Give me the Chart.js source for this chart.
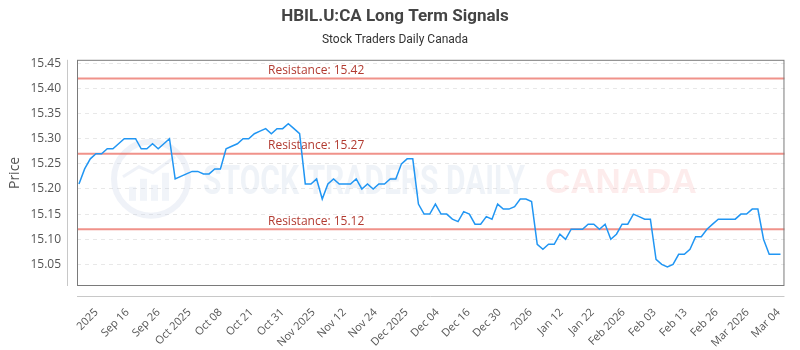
<!DOCTYPE html>
<html>
<head>
<meta charset="utf-8">
<script src="https://cdn.jsdelivr.net/npm/chart.js@4.4.0/dist/chart.umd.min.js"></script>
<style>
  html, body { margin: 0; padding: 0; background: #fff; }
</style>
</head>
<body>
<canvas id="chart" width="800" height="350"></canvas>
<script>
// daily closes
const prices = [
  15.21, 15.24, 15.26, 15.27, 15.27, 15.28, 15.28, 15.29, 15.30, 15.30,
  15.30, 15.28, 15.28, 15.29, 15.28, 15.29, 15.30, 15.22, 15.225, 15.23,
  15.235, 15.235, 15.23, 15.23, 15.24, 15.24, 15.28, 15.285, 15.29, 15.30,
  15.30, 15.31, 15.315, 15.32, 15.31, 15.32, 15.32, 15.33, 15.32, 15.31,
  15.21, 15.21, 15.22, 15.18, 15.21, 15.22, 15.21, 15.21, 15.21, 15.22,
  15.20, 15.21, 15.20, 15.21, 15.21, 15.22, 15.22, 15.25, 15.26, 15.26,
  15.17, 15.15, 15.15, 15.17, 15.15, 15.15, 15.14, 15.135, 15.155, 15.15,
  15.13, 15.13, 15.145, 15.14, 15.17, 15.16, 15.16, 15.165, 15.18, 15.18,
  15.175, 15.09, 15.08, 15.09, 15.09, 15.11, 15.10, 15.12, 15.12, 15.12,
  15.13, 15.13, 15.12, 15.13, 15.10, 15.11, 15.13, 15.13, 15.15, 15.145,
  15.14, 15.14, 15.06, 15.05, 15.045, 15.05, 15.07, 15.07, 15.08, 15.105,
  15.105, 15.12, 15.13, 15.14, 15.14, 15.14, 15.14, 15.15, 15.15, 15.16,
  15.16, 15.10, 15.07, 15.07, 15.07
];

const tickLabels = [
  "2025", "Sep 16", "Sep 26", "Oct 2025", "Oct 08", "Oct 21", "Oct 31",
  "Nov 2025", "Nov 12", "Nov 24", "Dec 2025", "Dec 04", "Dec 16", "Dec 30",
  "2026", "Jan 12", "Jan 22", "Feb 2026", "Feb 03", "Feb 13", "Feb 26",
  "Mar 2026", "Mar 04"
];

const priceTicks = [15.05, 15.10, 15.15, 15.20, 15.25, 15.30, 15.35, 15.40, 15.45];
const resistance = [15.42, 15.27, 15.12];

// x ticks sit evenly along the index axis
const firstTick = 3.1;
const tickStep = 5.48;

const narrow = '"Liberation Sans Narrow", "Roboto", sans-serif';
const plain = '"Open Sans", sans-serif';

// frame, offset axis lines, resistance levels and the faint watermark
const decor = {
  id: 'decor',
  beforeDatasetsDraw(chart) {
    const { ctx, chartArea: a, scales: { y } } = chart;
    ctx.save();

    // watermark logo
    const cx = a.left + 74, cy = a.top + 119;
    ctx.strokeStyle = 'rgba(190,204,226,0.25)';
    ctx.fillStyle = 'rgba(190,204,226,0.22)';
    ctx.lineWidth = 6;
    ctx.beginPath();
    ctx.arc(cx, cy, 37, 0, Math.PI * 2);
    ctx.stroke();
    [[-22, 14], [-11, 22], [0, 16], [11, 28]].forEach(b => {
      ctx.fillRect(cx + b[0], cy + 26 - b[1] - 4, 7, b[1]);
    });
    ctx.lineWidth = 3;
    ctx.beginPath();
    ctx.moveTo(cx - 28, cy - 2);
    ctx.lineTo(cx - 12, cy - 12);
    ctx.lineTo(cx + 2, cy - 6);
    ctx.lineTo(cx + 24, cy - 22);
    ctx.stroke();

    ctx.textAlign = 'left';
    ctx.textBaseline = 'alphabetic';
    ctx.font = 'bold 40px ' + narrow;
    ctx.fillStyle = 'rgba(190,204,226,0.24)';
    ctx.fillText('STOCK TRADERS DAILY', a.left + 126, a.top + 134, 322);
    ctx.font = 'bold 35px "Liberation Sans", sans-serif';
    ctx.fillStyle = 'rgba(245,160,160,0.2)';
    ctx.fillText('CANADA', a.left + 468, a.top + 133, 152);

    // resistance levels
    resistance.forEach(level => {
      const py = y.getPixelForValue(level);
      ctx.strokeStyle = 'rgba(234,100,88,0.7)';
      ctx.lineWidth = 2;
      ctx.beginPath();
      ctx.moveTo(a.left, py);
      ctx.lineTo(a.right, py);
      ctx.stroke();
      ctx.fillStyle = '#b23b31';
      ctx.font = '12px ' + plain;
      ctx.textAlign = 'left';
      ctx.textBaseline = 'bottom';
      ctx.fillText('Resistance: ' + level.toFixed(2), a.left + 191, py - 2);
    });
    ctx.restore();
  },
  afterDraw(chart) {
    const { ctx, chartArea: a } = chart;
    ctx.save();
    ctx.lineWidth = 1;
    ctx.strokeStyle = '#7a7a7a';
    ctx.strokeRect(a.left + 0.5, a.top + 0.5, a.right - a.left - 1, a.bottom - a.top - 1);
    ctx.strokeStyle = '#c8c8c8';
    ctx.beginPath();
    ctx.moveTo(a.left - 9.5, a.top);
    ctx.lineTo(a.left - 9.5, a.bottom);
    ctx.moveTo(a.left, a.bottom + 10.5);
    ctx.lineTo(a.right, a.bottom + 10.5);
    ctx.stroke();
    ctx.restore();
  }
};

new Chart(document.getElementById('chart'), {
  type: 'line',
  data: {
    datasets: [{
      data: prices.map((p, i) => ({ x: i, y: p })),
      borderColor: '#2196f3',
      borderWidth: 1.5,
      pointRadius: 0,
      tension: 0,
      fill: false
    }]
  },
  options: {
    responsive: false,
    animation: false,
    devicePixelRatio: 1,
    layout: { padding: { left: 0, right: 10, top: 0, bottom: 0 } },
    plugins: {
      legend: { display: false },
      tooltip: { enabled: false },
      title: {
        display: true,
        text: 'HBIL.U:CA Long Term Signals',
        color: '#444',
        font: { family: narrow, size: 17, weight: 'bold' },
        padding: { top: 7, bottom: 3 }
      },
      subtitle: {
        display: true,
        text: 'Stock Traders Daily Canada',
        color: '#333',
        font: { family: narrow, size: 12 },
        padding: { top: 2, bottom: 13 }
      }
    },
    scales: {
      x: {
        type: 'linear',
        min: -0.35,
        max: 124.7,
        grid: { display: false },
        border: { display: false },
        afterBuildTicks: s => { s.ticks = tickLabels.map((_, k) => ({ value: firstTick + k * tickStep })); },
        afterFit: s => { s.height = 64; },
        ticks: {
          autoSkip: false,
          minRotation: 45,
          maxRotation: 45,
          padding: 12,
          color: '#555',
          font: { family: plain, size: 11 },
          callback: (v, i) => tickLabels[i]
        }
      },
      y: {
        min: 15.007,
        max: 15.457,
        afterBuildTicks: s => { s.ticks = priceTicks.map(v => ({ value: v })); },
        afterFit: s => { s.width = 77; },
        grid: { color: '#e8e8e8', drawTicks: false },
        border: { display: false, dash: [4, 4] },
        ticks: {
          padding: 16,
          color: '#555',
          font: { family: plain, size: 12 },
          callback: v => v.toFixed(2)
        },
        title: {
          display: true,
          text: 'Price',
          color: '#555',
          font: { family: plain, size: 14 },
          padding: { top: 7, bottom: 0 }
        }
      }
    }
  },
  plugins: [decor]
});
</script>
</body>
</html>
